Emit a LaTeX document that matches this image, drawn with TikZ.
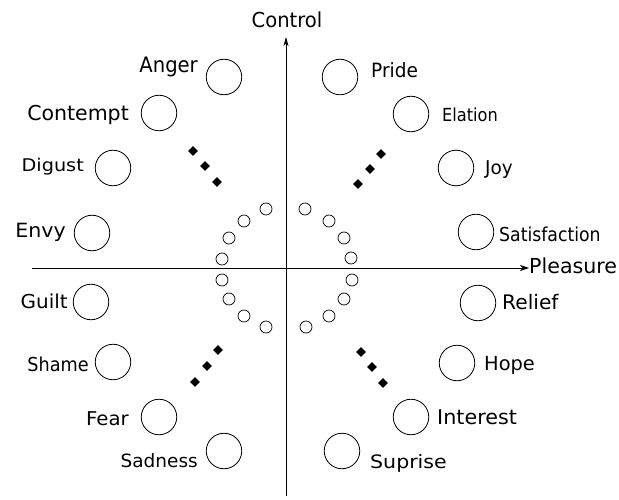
\documentclass[tikz,border=0pt]{standalone}
\usepackage{graphicx}
\usepackage{fontspec}
\setmainfont{DejaVu Sans}
\usetikzlibrary{arrows.meta,shapes.geometric}
\tikzset{
  big/.style={draw,circle,line width=0.8pt,minimum size=35.5pt,inner sep=0pt},
  small/.style={draw,circle,line width=0.7pt,minimum size=12pt,inner sep=0pt},
  dmd/.style={fill,diamond,minimum size=10pt,inner sep=0pt},
  lab/.style={inner sep=0pt},
  axis/.style={line width=0.8pt},
}
\newcommand{\lbl}[3]{\scalebox{#2}[1]{\fontsize{#1pt}{#1pt}\selectfont #3}}
\begin{document}
\begin{tikzpicture}[x=1pt,y=-1pt]
\useasboundingbox (0,0) rectangle (619,500);
% axes
\coordinate (hl) at (32,268);
\coordinate (vb) at (286,496);
\node[lab,anchor=base west] (pleasure) at (529,273) {\lbl{20.6}{1.0}{Pleasure}};
\node[lab,anchor=base] (control) at (287,28) {\lbl{20.6}{0.95}{Control}};
\draw[axis,-{Stealth[length=9pt,width=6pt,inset=2.5pt]}] (hl) -- (pleasure.west|-hl);
\draw[axis,-{Stealth[length=9pt,width=5pt,inset=2.5pt]}] (vb) -- (286,37);
% big circles left
\node[big] (anger) at (224,77) {};
\node[big] (contempt) at (159,113) {};
\node[big] (digust) at (113,168) {};
\node[big] (envy) at (92,233) {};
\node[big] (guilt) at (91,302) {};
\node[big] (shame) at (113,362) {};
\node[big] (fear) at (159,417) {};
\node[big] (sadness) at (224,451) {};
% big circles right
\node[big] (pride) at (340,77) {};
\node[big] (elation) at (411,114) {};
\node[big] (joy) at (456,168) {};
\node[big] (satisfaction) at (476,232) {};
\node[big] (relief) at (478,303) {};
\node[big] (hope) at (457,363) {};
\node[big] (interest) at (411,417) {};
\node[big] (suprise) at (342,451) {};
% labels left
\node[lab,anchor=base east] (tanger) at (198,73) {\lbl{21.3}{0.92}{Anger}};
\node[lab,anchor=base east] (tcontempt) at (129,121) {\lbl{20.5}{1.0}{Contempt}};
\node[lab,anchor=base east] (tdigust) at (84,172) {\lbl{17.5}{1.1}{Digust}};
\node[lab,anchor=base east] (tenvy) at (66,237) {\lbl{19.6}{1.05}{Envy}};
\node[lab,anchor=base east] (tguilt) at (68,308) {\lbl{19.2}{1.04}{Guilt}};
\node[lab,anchor=base east] (tshame) at (89,371) {\lbl{19.2}{0.92}{Shame}};
\node[lab,anchor=base east] (tfear) at (129,425) {\lbl{19}{1.04}{Fear}};
\node[lab,anchor=base east] (tsadness) at (198,467) {\lbl{18.3}{1.01}{Sadness}};
% labels right
\node[lab,anchor=base west] (tpride) at (371,78) {\lbl{19.7}{0.94}{Pride}};
\node[lab,anchor=base west] (telation) at (442,122) {\lbl{18}{0.9}{Elation}};
\node[lab,anchor=base west] (tjoy) at (485,175) {\lbl{19}{0.97}{Joy}};
\node[lab,anchor=base west] (tsatisfaction) at (499,241) {\lbl{19.2}{0.9}{Satisfaction}};
\node[lab,anchor=base west] (trelief) at (502,309) {\lbl{20}{1.01}{Relief}};
\node[lab,anchor=base west] (thope) at (484,370) {\lbl{19.4}{1.0}{Hope}};
\node[lab,anchor=base west] (tinterest) at (437,424) {\lbl{20.3}{1.02}{Interest}};
\node[lab,anchor=base west] (tsuprise) at (370,468) {\lbl{18.5}{1.11}{Suprise}};
% small circles left
\node[small] (l1) at (266,209) {};
\node[small] (l2) at (244,221) {};
\node[small] (l3) at (229,238) {};
\node[small] (l4) at (222,259) {};
\node[small] (l5) at (222,280) {};
\node[small] (l6) at (229,299) {};
\node[small] (l7) at (244,316) {};
\node[small] (l8) at (266,327) {};
% small circles right
\node[small] (r1) at (305,209) {};
\node[small] (r2) at (329,221) {};
\node[small] (r3) at (344,238) {};
\node[small] (r4) at (351,258) {};
\node[small] (r5) at (352,280) {};
\node[small] (r6) at (344,299) {};
\node[small] (r7) at (329,316) {};
\node[small] (r8) at (306,327) {};
% diamonds
\node[dmd] (ul1) at (193,151) {};
\node[dmd] (ul2) at (205,166) {};
\node[dmd] (ul3) at (217,182) {};
\node[dmd] (ur1) at (381,154) {};
\node[dmd] (ur2) at (370,169) {};
\node[dmd] (ur3) at (358,184) {};
\node[dmd] (ll1) at (218,350) {};
\node[dmd] (ll2) at (207,366) {};
\node[dmd] (ll3) at (195,382) {};
\node[dmd] (lr1) at (361,352) {};
\node[dmd] (lr2) at (372,367) {};
\node[dmd] (lr3) at (383,383) {};
\end{tikzpicture}
\end{document}
